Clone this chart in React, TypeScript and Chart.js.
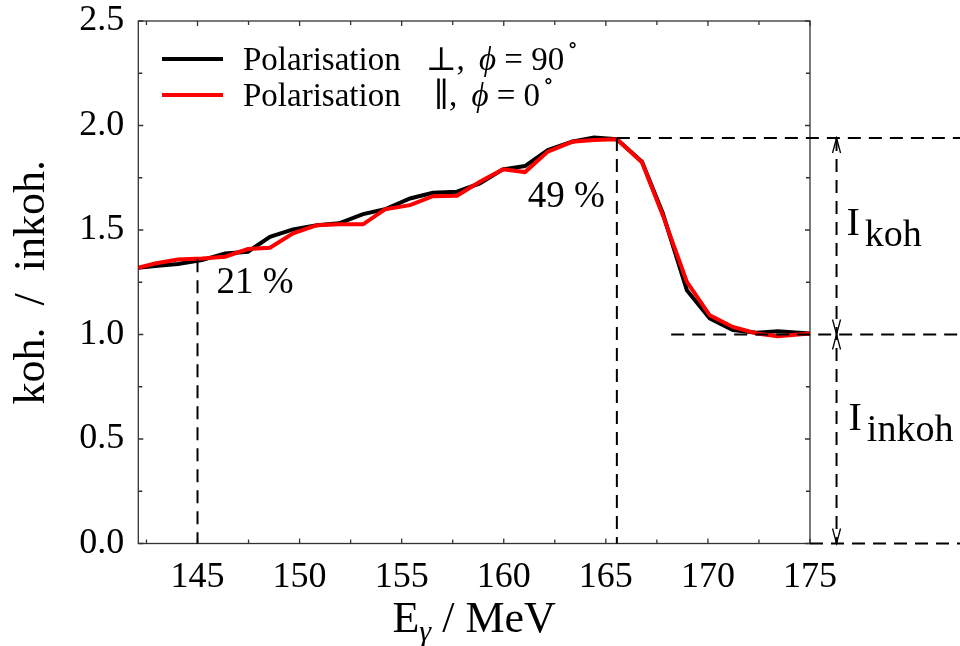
import React, { useEffect, useRef } from "react";
import { Chart, registerables } from "chart.js";

Chart.register(...registerables);

// ---- data ----
const energies = [
  142.1, 142.92, 144.04, 145.22, 146.35, 147.47, 148.55, 149.68, 150.85, 151.93,
  153.11, 154.18, 155.41, 156.53, 157.71, 158.83, 159.96, 161.04, 162.16, 163.34,
  164.42, 165.54, 166.77, 167.79, 168.97, 170.09, 171.22, 172.39, 173.42, 175.0,
];
const perpValues = [
  1.319, 1.328, 1.337, 1.356, 1.388, 1.396, 1.467, 1.503, 1.523, 1.532,
  1.576, 1.599, 1.651, 1.678, 1.683, 1.723, 1.79, 1.806, 1.883, 1.922,
  1.943, 1.934, 1.827, 1.58, 1.212, 1.077, 1.021, 1.008, 1.016, 1.005,
];
const paraValues = [
  1.319, 1.34, 1.359, 1.364, 1.372, 1.409, 1.415, 1.484, 1.523, 1.527,
  1.527, 1.599, 1.619, 1.662, 1.664, 1.731, 1.79, 1.777, 1.875, 1.922,
  1.931, 1.934, 1.824, 1.571, 1.252, 1.092, 1.036, 1.005, 0.992, 1.005,
];
const xTicks = [145, 150, 155, 160, 165, 170, 175];
const xMinorTicks = [142.5, 147.5, 152.5, 157.5, 162.5, 167.5, 172.5];
const yTicks = [0, 0.5, 1.0, 1.5, 2.0, 2.5];
const yMinorTicks = [0.25, 0.75, 1.25, 1.75, 2.25];
const xRange = [142.1, 175];
const yRange = [0, 2.5];

// annotation values
const lowMarkE = 145;
const lowMarkValue = 1.36;
const lowMarkText = "21 %";
const peakIndex = 21;
const peakText = "49 %";
const cohLevel = 1.94;
const incohLevel = 1.0;
const arrowE = 176.3;
const cohLabel = ["I", "koh"];
const incohLabel = ["I", "inkoh"];

const seriesLabels = ["Polarisation   \u22A5, ", "Polarisation    \u2225, "];
const seriesAngles = ["90", "0"];
const seriesColors = ["#000000", "#ff0000"];

const SERIF = "'Liberation Serif', 'Times New Roman', 'DejaVu Serif', serif";

function dashedLine(ctx: CanvasRenderingContext2D, x1: number, y1: number, x2: number, y2: number) {
  ctx.beginPath();
  ctx.moveTo(x1, y1);
  ctx.lineTo(x2, y2);
  ctx.stroke();
}

function arrowHead(ctx: CanvasRenderingContext2D, x: number, y: number, dir: number) {
  // dir = -1 points up, +1 points down
  ctx.save();
  ctx.setLineDash([]);
  ctx.lineWidth = 1.3;
  ctx.beginPath();
  ctx.moveTo(x - 4, y - dir * 15);
  ctx.lineTo(x, y);
  ctx.lineTo(x + 4, y - dir * 15);
  ctx.stroke();
  ctx.restore();
}

const framePlugin = {
  id: "frame",
  beforeDatasetsDraw(chart: any) {
    const { ctx, chartArea: a, scales } = chart;
    const xs = scales.x;
    const ys = scales.y;
    ctx.save();
    ctx.strokeStyle = "#333";
    ctx.lineWidth = 1.3;
    ctx.strokeRect(a.left, a.top, a.right - a.left, a.bottom - a.top);
    const tick = (len: number, vals: number[], axis: "x" | "y") => {
      vals.forEach((v) => {
        ctx.beginPath();
        if (axis === "x") {
          const px = xs.getPixelForValue(v);
          ctx.moveTo(px, a.bottom);
          ctx.lineTo(px, a.bottom - len);
          ctx.moveTo(px, a.top);
          ctx.lineTo(px, a.top + len);
        } else {
          const py = ys.getPixelForValue(v);
          ctx.moveTo(a.left, py);
          ctx.lineTo(a.left + len, py);
          ctx.moveTo(a.right, py);
          ctx.lineTo(a.right - len, py);
        }
        ctx.stroke();
      });
    };
    tick(5, xTicks, "x");
    tick(4, xMinorTicks, "x");
    tick(5, yTicks, "y");
    tick(4, yMinorTicks, "y");
    ctx.restore();
  },
};

const overlayPlugin = {
  id: "overlay",
  afterDraw(chart: any) {
    const { ctx, chartArea: a, scales, width } = chart;
    const xs = scales.x;
    const ys = scales.y;
    ctx.save();
    // dashed guide lines
    ctx.strokeStyle = "#000";
    ctx.lineWidth = 2;
    ctx.setLineDash([13, 8]);
    const lowX = xs.getPixelForValue(lowMarkE);
    dashedLine(ctx, lowX, ys.getPixelForValue(lowMarkValue), lowX, a.bottom);
    const peakX = xs.getPixelForValue(energies[peakIndex]);
    const peakY = ys.getPixelForValue(cohLevel);
    dashedLine(ctx, peakX, peakY, peakX, a.bottom);
    dashedLine(ctx, peakX, peakY, width, peakY);
    const incY = ys.getPixelForValue(incohLevel);
    dashedLine(ctx, xs.getPixelForValue(168.2), incY, width, incY);
    const zeroY = ys.getPixelForValue(0);
    dashedLine(ctx, a.right, zeroY, width, zeroY);
    const arrX = xs.getPixelForValue(arrowE);
    dashedLine(ctx, arrX, peakY, arrX, zeroY);
    arrowHead(ctx, arrX, peakY, -1);
    arrowHead(ctx, arrX, incY, 1);
    arrowHead(ctx, arrX, incY, -1);
    arrowHead(ctx, arrX, zeroY, 1);
    ctx.setLineDash([]);

    // texts
    ctx.fillStyle = "#000";
    ctx.textBaseline = "alphabetic";
    ctx.font = `37px ${SERIF}`;
    ctx.textAlign = "left";
    ctx.fillText(lowMarkText, lowX + 19, ys.getPixelForValue(1.2));
    ctx.textAlign = "right";
    ctx.fillText(peakText, peakX - 12, ys.getPixelForValue(1.61));
    ctx.textAlign = "left";
    const drawSub = (parts: string[], x: number, baseV: number) => {
      const by = ys.getPixelForValue(baseV);
      ctx.font = `40px ${SERIF}`;
      ctx.fillText(parts[0], x, by);
      const w = ctx.measureText(parts[0]).width;
      ctx.font = `38px ${SERIF}`;
      ctx.fillText(parts[1], x + w + 5, by + 11);
    };
    drawSub(cohLabel, arrX + 10, 1.475);
    drawSub(incohLabel, arrX + 12, 0.542);

    // x axis title: E_gamma / MeV
    const cx = (a.left + a.right) / 2;
    const ty = 632;
    ctx.font = `44px ${SERIF}`;
    const wE = ctx.measureText("E").width;
    ctx.font = `italic 30px ${SERIF}`;
    const wG = ctx.measureText("\u03B3").width;
    ctx.font = `44px ${SERIF}`;
    const rest = " / MeV";
    const wR = ctx.measureText(rest).width;
    let sx = cx - (wE + wG + wR) / 2;
    ctx.fillText("E", sx, ty);
    sx += wE;
    ctx.font = `italic 30px ${SERIF}`;
    ctx.fillText("\u03B3", sx, ty + 9);
    sx += wG;
    ctx.font = `44px ${SERIF}`;
    ctx.fillText(rest, sx, ty);

    // legend
    const ds = chart.data.datasets;
    const rowsY = [59, 95];
    ds.forEach((d: any, i: number) => {
      const y = rowsY[i];
      ctx.strokeStyle = d.borderColor;
      ctx.lineWidth = 4;
      ctx.beginPath();
      ctx.moveTo(162, y);
      ctx.lineTo(223, y);
      ctx.stroke();
      ctx.fillStyle = "#000";
      ctx.font = `33px ${SERIF}`;
      ctx.textBaseline = "alphabetic";
      let lx = 243;
      const by = y + 11;
      ctx.fillText(seriesLabels[i], lx, by);
      lx += ctx.measureText(seriesLabels[i]).width + 6;
      ctx.font = `italic 33px ${SERIF}`;
      ctx.fillText("\u03D5", lx, by);
      lx += ctx.measureText("\u03D5").width;
      ctx.font = `33px ${SERIF}`;
      const eq = " = " + seriesAngles[i];
      ctx.fillText(eq, lx, by);
      lx += ctx.measureText(eq).width + 3;
      ctx.font = `22px ${SERIF}`;
      ctx.fillText("\u2218", lx, by - 18);
    });
    ctx.restore();
  },
};

export default function App() {
  const ref = useRef<HTMLCanvasElement | null>(null);
  useEffect(() => {
    if (!ref.current) return;
    const chart = new Chart(ref.current, {
      type: "line",
      data: {
        datasets: [
          {
            label: "Polarisation \u22A5, \u03D5 = 90\u00B0",
            data: energies.map((e, i) => ({ x: e, y: perpValues[i] })),
            borderColor: seriesColors[0],
            borderWidth: 4,
            pointRadius: 0,
            tension: 0,
            order: 2,
            clip: 0,
          },
          {
            label: "Polarisation \u2225, \u03D5 = 0\u00B0",
            data: energies.map((e, i) => ({ x: e, y: paraValues[i] })),
            borderColor: seriesColors[1],
            borderWidth: 4,
            pointRadius: 0,
            tension: 0,
            order: 1,
            clip: 0,
          },
        ],
      },
      options: {
        responsive: false,
        animation: false,
        events: [],
        layout: { padding: { left: 0, right: 150, top: 21, bottom: 0 } },
        plugins: { legend: { display: false }, tooltip: { enabled: false } },
        scales: {
          x: {
            type: "linear",
            min: xRange[0],
            max: xRange[1],
            grid: { display: false, drawTicks: false },
            border: { display: false },
            ticks: {
              color: "#000",
              font: { family: SERIF, size: 36 },
              padding: 12,
              maxRotation: 0,
              autoSkip: false,
            },
            afterBuildTicks: (s: any) => {
              s.ticks = xTicks.map((v) => ({ value: v }));
            },
            afterFit: (s: any) => {
              s.height = 102.5;
              s.paddingLeft = 0;
              s.paddingRight = 0;
            },
          },
          y: {
            type: "linear",
            min: yRange[0],
            max: yRange[1],
            grid: { display: false, drawTicks: false },
            border: { display: false },
            ticks: {
              color: "#000",
              font: { family: SERIF, size: 36 },
              padding: 14,
              callback: (v: any) => Number(v).toFixed(1),
            },
            afterBuildTicks: (s: any) => {
              s.ticks = yTicks.map((v) => ({ value: v }));
            },
            afterFit: (s: any) => {
              s.width = 138.3;
              s.paddingTop = 0;
              s.paddingBottom = 0;
            },
            title: {
              display: true,
              text: "koh.  /  inkoh.",
              color: "#000",
              font: { family: SERIF, size: 44 },
              padding: { top: 6, bottom: 0 },
            },
          },
        },
      },
      plugins: [framePlugin, overlayPlugin],
    });
    return () => chart.destroy();
  }, []);
  return (
    <div style={{ position: "absolute", left: 0, top: 0, width: 960, height: 646, background: "#fff" }}>
      <canvas ref={ref} width={960} height={646} />
    </div>
  );
}
